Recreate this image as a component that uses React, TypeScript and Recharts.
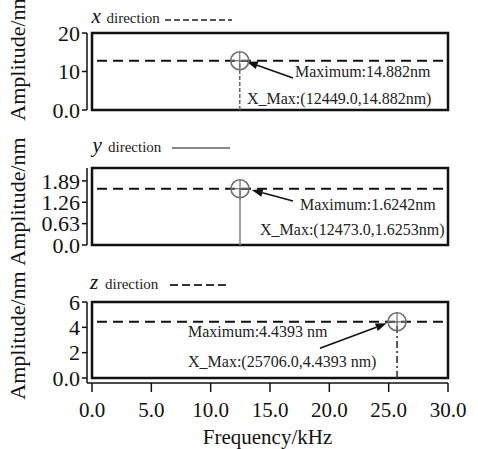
import React from 'react';
import {
  ComposedChart,
  Line,
  Scatter,
  XAxis,
  YAxis,
  ReferenceLine,
  ReferenceArea,
  ReferenceDot,
  Legend,
} from 'recharts';

const FONT = "'Liberation Serif', 'Times New Roman', Times, serif";

// ---- shared frequency axis (kHz) ----
const freqTicks = [0, 5, 10, 15, 20, 25, 30];
const freqTickLabels = ['0.0', '5.0', '10.0', '15.0', '20.0', '25.0', '30.0'];
const freqMax = 30;

// ---- x direction ----
const xDirFreq = [12.449, 12.449];
const xDirAmp = [0, 12.8];
const xDirTicks = [0, 10, 20];
const xDirTickLabels = ['0.0', '10', '20'];
const xDirMax = 20;
const xDirNotes = ['Maximum:14.882nm', 'X_Max:(12449.0,14.882nm)'];

// ---- y direction ----
const yDirFreq = [12.473, 12.473];
const yDirAmp = [0, 1.66];
const yDirTicks = [0, 0.63, 1.26, 1.89];
const yDirTickLabels = ['0.0', '0.63', '1.26', '1.89'];
const yDirMax = 2.27;
const yDirNotes = ['Maximum:1.6242nm', 'X_Max:(12473.0,1.6253nm)'];

// ---- z direction ----
const zDirFreq = [25.706, 25.706];
const zDirAmp = [0, 4.4393];
const zDirTicks = [0, 2, 4, 6];
const zDirTickLabels = ['0.0', '2', '4', '6'];
const zDirMax = 6;
const zDirNotes = ['Maximum:4.4393 nm', 'X_Max:(25706.0,4.4393 nm)'];

const toPoints = (fs: number[], as: number[]) => fs.map((f, i) => ({ f, a: as[i] }));

const arrowShape = (p: any) => {
  const { x1, y1, x2, y2 } = p;
  if ([x1, y1, x2, y2].some((v) => typeof v !== 'number' || isNaN(v))) return <g />;
  const ang = Math.atan2(y2 - y1, x2 - x1);
  const c = Math.cos(ang);
  const s = Math.sin(ang);
  const L = 11;
  const W = 4;
  const bx = x2 - L * c;
  const by = y2 - L * s;
  const pts = `${x2},${y2} ${bx - W * s},${by + W * c} ${bx + W * s},${by - W * c}`;
  return (
    <g>
      <line x1={x1} y1={y1} x2={bx} y2={by} stroke="#111" strokeWidth={1.6} />
      <polygon points={pts} fill="#111" />
    </g>
  );
};

const markerShape = (p: any) => {
  const { cx, cy } = p;
  const r = 9;
  return (
    <g>
      <circle cx={cx} cy={cy} r={r} fill="none" stroke="#6f6f6f" strokeWidth={1.6} />
      <line x1={cx - r} y1={cy} x2={cx + r} y2={cy} stroke="#6f6f6f" strokeWidth={1.2} />
      <line x1={cx} y1={cy - r} x2={cx} y2={cy + r} stroke="#6f6f6f" strokeWidth={1.2} />
    </g>
  );
};

const noteShape = (text: string) => (p: any) => (
  <text
    x={p.cx}
    y={p.cy}
    textAnchor="start"
    dominantBaseline="central"
    style={{ fontSize: 16, fill: '#222', fontFamily: FONT }}
  >
    {text}
  </text>
);

type LegendSpec = {
  letter: string;
  letterX: number;
  wordX: number;
  baseY: number;
  lineX1: number;
  lineX2: number;
  lineY: number;
  stroke: string;
  dash?: string;
};

const makeLegend = (spec: LegendSpec) => () => (
  <svg width={160} height={28} style={{ display: 'block', overflow: 'visible', fontFamily: FONT }}>
    <text x={spec.letterX} y={spec.baseY} style={{ fontSize: 21, fontStyle: 'italic', fill: '#111', fontFamily: FONT }}>
      {spec.letter}
    </text>
    <text x={spec.wordX} y={spec.baseY} style={{ fontSize: 15, fill: '#222', fontFamily: FONT }}>
      direction
    </text>
    <line
      x1={spec.lineX1}
      y1={spec.lineY}
      x2={spec.lineX2}
      y2={spec.lineY}
      stroke={spec.stroke}
      strokeWidth={2}
      strokeDasharray={spec.dash}
    />
  </svg>
);

type PanelProps = {
  margin: { top: number; right: number; bottom: number; left: number };
  showX: boolean;
  freq: number[];
  amp: number[];
  yTicks: number[];
  yTickLabels: string[];
  yMax: number;
  seriesStroke: string;
  seriesDash?: string;
  notes: string[];
  notePos: { x: number; y: number }[];
  arrow: { x: number; y: number }[];
  titleDy: number;
  legendTop: number;
  legend: LegendSpec;
};

function Panel(props: PanelProps) {
  const pts = toPoints(props.freq, props.amp);
  const peak = pts[pts.length - 1];
  return (
    <div style={{ position: 'absolute', left: 0, top: 0 }}>
      <ComposedChart width={478} height={449} margin={props.margin}>
        <XAxis
          type="number"
          dataKey="f"
          domain={[0, freqMax]}
          ticks={freqTicks}
          tickFormatter={(v: number) => freqTickLabels[freqTicks.indexOf(v)] ?? String(v)}
          padding={{ left: 5, right: 0 }}
          allowDataOverflow
          hide={!props.showX}
          height={props.showX ? 66 : 0}
          tickSize={9}
          tickMargin={10}
          stroke="#111"
          strokeWidth={1.5}
          tick={{ fontSize: 21, fill: '#111' }}
          interval={0}
          label={
            props.showX
              ? { value: 'Frequency/kHz', position: 'insideBottom', offset: 5, style: { fontSize: 21, fill: '#111' } }
              : undefined
          }
        />
        <YAxis
          type="number"
          dataKey="a"
          width={87}
          domain={[0, props.yMax]}
          ticks={props.yTicks}
          tickFormatter={(v: number) => props.yTickLabels[props.yTicks.indexOf(v)] ?? String(v)}
          allowDataOverflow
          interval={0}
          tickSize={5}
          stroke="#111"
          strokeWidth={1.5}
          padding={{ top: 0, bottom: props.showX ? 5 : 0 }}
          tick={{ fontSize: 22, fill: '#111' }}
          label={{
            value: 'Amplitude/nm',
            angle: -90,
            position: 'center',
            dx: -26,
            dy: props.titleDy,
            style: { fontSize: 22, fill: '#111', textAnchor: 'middle' },
          }}
        />
        <ReferenceArea
          x1={0}
          x2={freqMax}
          y1={0}
          y2={props.yMax}
          fill="none"
          fillOpacity={0}
          stroke="#111"
          strokeWidth={2.5}
          ifOverflow="visible"
        />
        <ReferenceLine
          segment={[
            { x: 0, y: peak.a },
            { x: freqMax, y: peak.a },
          ]}
          stroke="#111"
          strokeWidth={2}
          strokeDasharray="10 6"
          strokeDashoffset={-5}
          ifOverflow="visible"
        />
        <Line
          data={pts}
          dataKey="a"
          type="linear"
          stroke={props.seriesStroke}
          strokeWidth={1.6}
          strokeDasharray={props.seriesDash}
          dot={false}
          activeDot={false}
          isAnimationActive={false}
        />
        <Scatter data={[peak]} dataKey="a" shape={markerShape} isAnimationActive={false} />
        <ReferenceLine segment={props.arrow} shape={arrowShape} ifOverflow="visible" />
        {props.notes.map((n, i) => (
          <ReferenceDot
            key={i}
            x={props.notePos[i].x}
            y={props.notePos[i].y}
            r={0}
            ifOverflow="visible"
            shape={noteShape(n)}
          />
        ))}
        <Legend
          layout="horizontal"
          verticalAlign="middle"
          align="center"
          wrapperStyle={{ top: props.legendTop, left: 88, width: 160, height: 28 }}
          content={makeLegend(props.legend)}
        />
      </ComposedChart>
    </div>
  );
}

export default function App() {
  return (
    <div
      style={{
        position: 'absolute',
        left: 0,
        top: 0,
        width: 478,
        height: 449,
        background: '#fff',
        fontFamily: FONT,
        overflow: 'hidden',
      }}
    >
      <Panel
        margin={{ top: 33, right: 30, bottom: 339, left: 0 }}
        showX={false}
        freq={xDirFreq}
        amp={xDirAmp}
        yTicks={xDirTicks}
        yTickLabels={xDirTickLabels}
        yMax={xDirMax}
        seriesStroke="#6a6a6a"
        seriesDash="4 2"
        notes={xDirNotes}
        notePos={[
          { x: 17.1, y: 9.9 },
          { x: 13.06, y: 3.1 },
        ]}
        arrow={[
          { x: 16.94, y: 8.3 },
          { x: 13.04, y: 12.55 },
        ]}
        titleDy={-15}
        legendTop={2}
        legend={{ letter: 'x', letterX: 3.5, wordX: 18.5, baseY: 21, lineX1: 77, lineX2: 144, lineY: 18, stroke: '#555', dash: '6 3' }}
      />
      <Panel
        margin={{ top: 168, right: 30, bottom: 204, left: 0 }}
        showX={false}
        freq={yDirFreq}
        amp={yDirAmp}
        yTicks={yDirTicks}
        yTickLabels={yDirTickLabels}
        yMax={yDirMax}
        seriesStroke="#888"
        notes={yDirNotes}
        notePos={[
          { x: 17.53, y: 1.18 },
          { x: 14.16, y: 0.47 },
        ]}
        arrow={[
          { x: 16.94, y: 1.3 },
          { x: 13.46, y: 1.62 },
        ]}
        titleDy={-5}
        legendTop={136}
        legend={{ letter: 'y', letterX: 4.5, wordX: 20, baseY: 16, lineX1: 84, lineX2: 142, lineY: 12, stroke: '#888' }}
      />
      <Panel
        margin={{ top: 302, right: 30, bottom: 0, left: 0 }}
        showX={true}
        freq={zDirFreq}
        amp={zDirAmp}
        yTicks={zDirTicks}
        yTickLabels={zDirTickLabels}
        yMax={zDirMax}
        seriesStroke="#333"
        seriesDash="7 3 2 3"
        notes={zDirNotes}
        notePos={[
          { x: 8.09, y: 3.65 },
          { x: 8.09, y: 1.29 },
        ]}
        arrow={[
          { x: 19.21, y: 2.34 },
          { x: 24.83, y: 4.32 },
        ]}
        titleDy={-7}
        legendTop={272}
        legend={{ letter: 'z', letterX: 2, wordX: 17, baseY: 17, lineX1: 82, lineX2: 139, lineY: 13, stroke: '#333', dash: '8 4' }}
      />
    </div>
  );
}
